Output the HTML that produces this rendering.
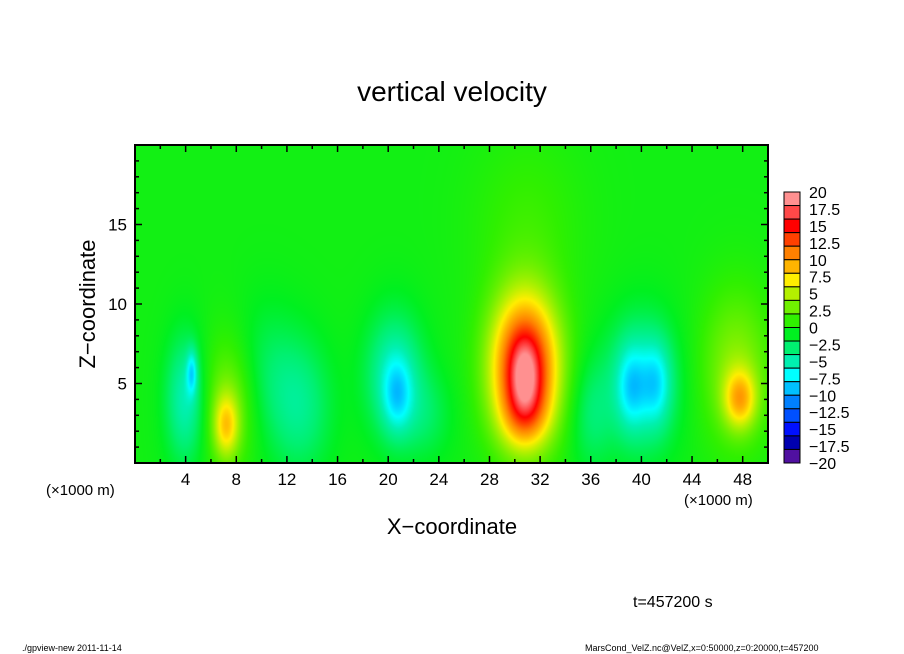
<!DOCTYPE html>
<html><head><meta charset="utf-8"><style>
body{margin:0;background:#fff;width:904px;height:654px;overflow:hidden;position:relative;font-family:"Liberation Sans",sans-serif}
#cv{position:absolute;left:135px;top:145px}
svg{position:absolute;left:0;top:0}
</style></head><body>
<canvas id="cv" width="633" height="318"></canvas>
<svg id="sv" width="904" height="654"></svg>
<script>
// blob features: x center (km), z center (km), amplitude (m/s), sigma x, sigma z
const blobX=[30.8,30.8,39.2,41.2,40,20.7,20.5,4.5,4,7.2,7.5,47.8,47.5,13,36,31,23,10,30.8];
const blobZ=[6,5.5,4.8,5,5,4.2,5.5,5.7,4,2.3,4,4,6,3.5,3,15,3,6,3];
const blobA=[16,5,-4,-4,-5,-4,-5,-5,-5,6,4,7,4,-3.5,-2.5,1.5,-2,-2,4];
const blobSX=[1.9,0.8,0.8,0.8,2,0.8,1.6,0.3,1.1,0.7,1.5,0.9,2,1.8,1.2,3,1.5,2,1.3];
const blobSZ=[3.2,1.6,1.8,1.8,3,1.6,2.8,1,2.8,1.4,3,1.3,3.5,3,2.5,4,2,3,1.5];
const baseValue=-0.5;
const levelLabels=["20","17.5","15","12.5","10","7.5","5","2.5","0","−2.5","−5","−7.5","−10","−12.5","−15","−17.5","−20"];
const bandColors=["#ff9090","#ff4848","#ff0000","#ff4000","#ff8000","#ffb400","#ffee00","#b4f000","#70f000","#30f000","#00f020","#00f070","#00f0b0","#00ffff","#00c0ff","#0080ff","#0050ff","#0010ff","#0000b0","#5010a0"];
const xTicks=[4,8,12,16,20,24,28,32,36,40,44,48];
const yTicks=[5,10,15];
const L=135,T=145,W=633,H=318;
const sx=v=>L+v/50*W, sy=v=>T+H-v/20*H;
function hex(c){return [parseInt(c.substr(1,2),16),parseInt(c.substr(3,2),16),parseInt(c.substr(5,2),16)];}
const rgbs=bandColors.map(hex);
function col(v){
  let f=(18.75-v)/2; if(f<0)f=0; if(f>19)f=19;
  const i=Math.floor(f),t=f-i,a=rgbs[i],b=rgbs[Math.min(19,i+1)];
  return [a[0]+(b[0]-a[0])*t,a[1]+(b[1]-a[1])*t,a[2]+(b[2]-a[2])*t];
}
const cv=document.getElementById('cv'),ctx=cv.getContext('2d'),img=ctx.createImageData(W,H);
for(let py=0;py<H;py++){const z=(H-py-0.5)/H*20;
 for(let px=0;px<W;px++){const x=(px+0.5)/W*50;let v=baseValue;
  for(let k=0;k<blobX.length;k++){const dx=(x-blobX[k])/blobSX[k],dz=(z-blobZ[k])/blobSZ[k];v+=blobA[k]*Math.exp(-0.5*(dx*dx+dz*dz));}
  const c=col(v),o=(py*W+px)*4;img.data[o]=c[0];img.data[o+1]=c[1];img.data[o+2]=c[2];img.data[o+3]=255;}}
ctx.putImageData(img,0,0);
const sv=document.getElementById('sv'),NS="http://www.w3.org/2000/svg";
function el(t,a,txt){const e=document.createElementNS(NS,t);for(const k in a)e.setAttribute(k,a[k]);if(txt!==undefined)e.textContent=txt;sv.appendChild(e);return e;}
let e=el('rect',{x:L,y:T,width:W,height:H,fill:'none',stroke:'#000','stroke-width':2});


for(let k=1;k<25;k++){const x=sx(k*2),len=(k%2==0)?7:4;
 el('line',{x1:x,y1:T+H,x2:x,y2:T+H-len,stroke:'#000','stroke-width':1.5});
 el('line',{x1:x,y1:T,x2:x,y2:T+len,stroke:'#000','stroke-width':1.5});}
for(let k=1;k<20;k++){const y=sy(k),len=(k%5==0)?7:4;
 el('line',{x1:L,y1:y,x2:L+len,y2:y,stroke:'#000','stroke-width':1.5});
 el('line',{x1:L+W,y1:y,x2:L+W-len,y2:y,stroke:'#000','stroke-width':1.5});}
xTicks.forEach(v=>{const t=el('text',{x:sx(v),y:485,'font-size':17,'text-anchor':'middle'},String(v));
 
 });
yTicks.forEach(v=>{const t=el('text',{x:127,y:sy(v)+6,'font-size':17,'text-anchor':'end'},String(v));
 
 });
const CB=192,CH=271,bh=CH/20;
bandColors.forEach((c,i)=>{const r=el('rect',{x:784,y:CB+i*bh,width:16,height:bh,fill:c,stroke:'#000','stroke-width':1});
 
 });
const step=CH/(levelLabels.length-1);
levelLabels.forEach((s,i)=>{const t=el('text',{x:809,y:CB+i*step+6,'font-size':16},s);
 
 });
</script>
<div style="position:absolute;left:0;width:904px;top:76px;text-align:center;font-size:28px">vertical velocity</div>
<div style="position:absolute;left:302px;width:300px;top:514px;text-align:center;font-size:22px">X−coordinate</div>
<div style="position:absolute;left:-62px;top:291px;width:300px;text-align:center;font-size:22px;transform:rotate(-90deg)">Z−coordinate</div>
<div style="position:absolute;left:46px;top:482px;font-size:15px">(×1000 m)</div>
<div style="position:absolute;left:684px;top:492px;font-size:15px">(×1000 m)</div>
<div style="position:absolute;left:633px;top:594px;font-size:16px">t=457200 s</div>
<div style="position:absolute;left:22px;top:643px;font-size:9px">./gpview-new  2011-11-14</div>
<div style="position:absolute;left:585px;top:643px;font-size:9px">MarsCond_VelZ.nc@VelZ,x=0:50000,z=0:20000,t=457200</div>
</body></html>
